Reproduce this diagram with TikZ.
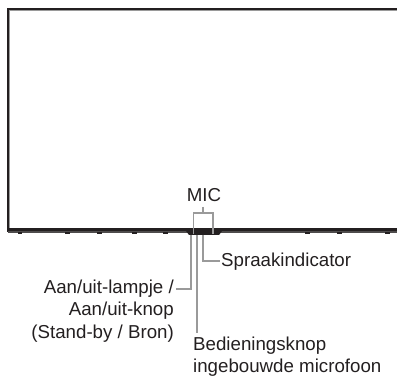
\documentclass[tikz,border=0pt]{standalone}
\usepackage{fontspec}
\setmainfont{Liberation Sans}
\definecolor{bez}{HTML}{231F20}
\definecolor{lead}{HTML}{9A9A9A}
\definecolor{bezg}{HTML}{4E4C4C}
\tikzset{
  px/.style={x=1pt,y=-1pt},
  lbl/.style={font=\fontsize{18.7}{22}\selectfont,inner sep=0pt,text=bez},
  leadline/.style={draw=lead,line width=1.1pt},
}
\begin{document}
\begin{tikzpicture}[px]
\useasboundingbox (0,0) rectangle (397,377);
% bezel
\fill[lead] (9,10) rectangle (397,11.5);
\fill[lead] (9,10) rectangle (10,228);
\fill[bez] (7,8) rectangle (397,10.3);
\fill[bez] (7,8) rectangle (9.2,232);
\fill[bez] (7,228) rectangle (397,231.5);
\fill[bezg] (8,231.5) rectangle (397,233);
% feet
\foreach \a/\b in {18/22,65/70,97/102,132/137,163/168,305/310,337/342,385/390}{
  \fill[bez] (\a,232) rectangle (\b,234.2);
}
\fill[bez] (186,231) -- (222,231) -- (219,235) -- (189,235) -- cycle;
% labels
\node[lbl,anchor=base] (mic) at (204,201.5) {MIC};
\node[lbl,anchor=base west] (spraak) at (221,267) {Spraakindicator};
\node[lbl,anchor=base east] (lampje) at (174,294) {Aan/uit-lampje /};
\node[lbl,anchor=base east] (knop) at (174,316) {Aan/uit-knop};
\node[lbl,anchor=base east] (standby) at (174,338.5) {(Stand-by / Bron)};
\node[lbl,anchor=base west] (bed) at (193,351) {Bedieningsknop};
\node[lbl,anchor=base west] (ingeb) at (193,372.5) {ingebouwde microfoon};
% leaders
\coordinate (micA) at (203,207);
\coordinate (micB) at (203,213);
\coordinate (micL) at (193.5,213);
\coordinate (micR) at (213,213);
\coordinate (micLb) at (193.5,234);
\coordinate (micRb) at (213,234);
\draw[leadline] (micA) -- (micB);
\draw[leadline] (micLb) -- (micL) -- (micR) -- (micRb);
\coordinate (sTop) at (203,235);
\coordinate (sEnd) at (220,261);
\draw[leadline] (sTop) |- (sEnd);
\coordinate (lTop) at (191,235);
\coordinate (lEnd) at (176,289);
\draw[leadline] (lTop) |- (lEnd);
\coordinate (bTop) at (197,235);
\coordinate (bEnd) at (197,333);
\draw[leadline] (bTop) -- (bEnd);
\end{tikzpicture}
\end{document}
